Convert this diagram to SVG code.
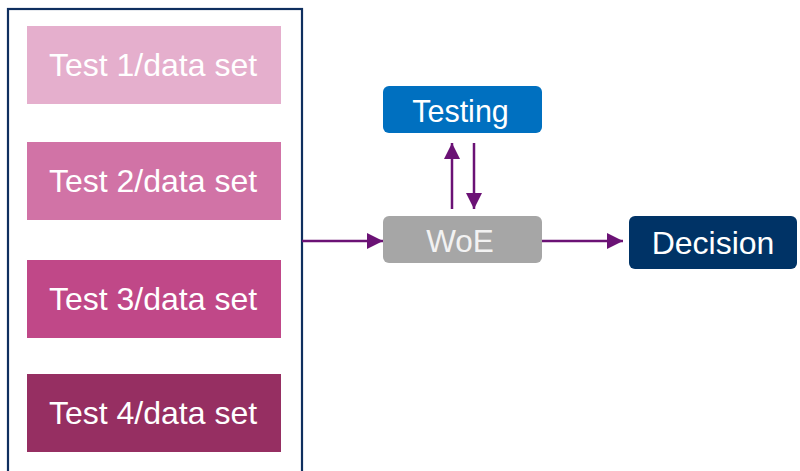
<svg xmlns="http://www.w3.org/2000/svg" width="800" height="471" viewBox="0 0 800 471">
<style>
text{font-family:"Liberation Sans",Arial,sans-serif;text-anchor:middle}
.t{font-size:32px;fill:#ffffff}
.c{stroke:#6B1275;stroke-width:2.5;fill:none}
</style>
<defs>
<marker id="ah" markerWidth="6.4" markerHeight="6.4" refX="6.4" refY="3.2" orient="auto" markerUnits="strokeWidth"><path d="M0,0 L6.4,3.2 L0,6.4 Z" fill="#6B1275"/></marker>
</defs>
<rect width="800" height="471" fill="#ffffff"/>
<g id="container"><rect x="8" y="9" width="294" height="470" fill="none" stroke="#0F2F5F" stroke-width="2.2"/></g>
<g id="test1"><rect x="27" y="26" width="254" height="78" fill="#E5AFCD"/><text class="t" x="153" y="76">Test 1/data set</text></g>
<g id="test2"><rect x="27" y="142" width="254" height="78" fill="#D173A6"/><text class="t" x="153" y="192">Test 2/data set</text></g>
<g id="test3"><rect x="27" y="260" width="254" height="78" fill="#C04888"/><text class="t" x="153" y="310">Test 3/data set</text></g>
<g id="test4"><rect x="27" y="374" width="254" height="78" fill="#962F62"/><text class="t" x="153" y="424">Test 4/data set</text></g>
<g id="testing"><rect x="383" y="86" width="159" height="47" rx="6" fill="#0070C0"/><text x="460.5" y="122" fill="#ffffff" style="font-size:30.5px">Testing</text></g>
<g id="woe"><rect x="383" y="216" width="159" height="47" rx="6" fill="#A6A6A6"/><text x="460" y="252" fill="#F2F2F2" style="font-size:31.5px">WoE</text></g>
<g id="decision"><rect x="629" y="216" width="168" height="53" rx="6" fill="#003366"/><text x="713" y="254" fill="#ffffff" style="font-size:32px">Decision</text></g>
<g id="connectors">
<line class="c" x1="302" y1="241" x2="383" y2="241" marker-end="url(#ah)"/>
<line class="c" x1="542" y1="241" x2="623" y2="241" marker-end="url(#ah)"/>
<line class="c" x1="452" y1="209" x2="452" y2="143" marker-end="url(#ah)"/>
<line class="c" x1="474" y1="143" x2="474" y2="209" marker-end="url(#ah)"/>
</g>
</svg>
